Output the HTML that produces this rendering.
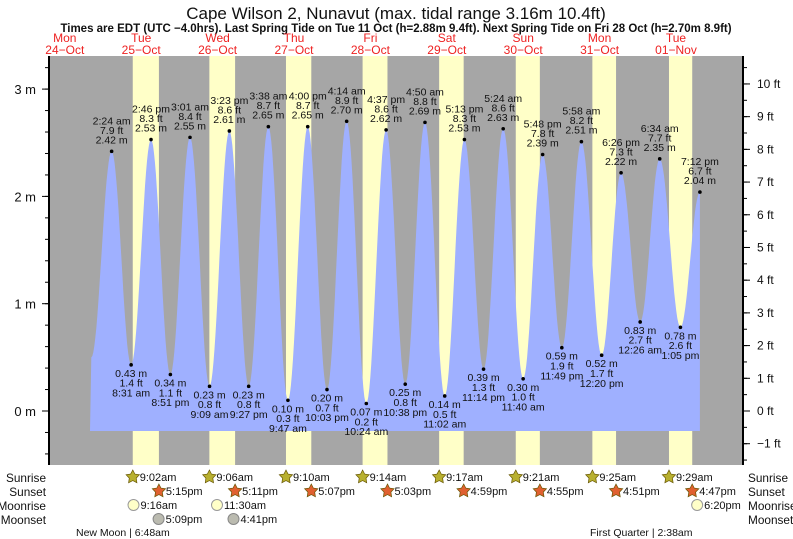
<!DOCTYPE html>
<html><head><meta charset="utf-8"><style>
body{margin:0;background:#fff;}
svg{display:block;font-family:"Liberation Sans",sans-serif;}
</style></head><body>
<svg id="chart" width="793" height="539" viewBox="0 0 793 539" xmlns="http://www.w3.org/2000/svg">
<text x="396" y="19" text-anchor="middle" font-size="17" fill="#111">Cape Wilson 2, Nunavut (max. tidal range 3.16m 10.4ft)</text>
<text x="396" y="32" text-anchor="middle" font-size="11.5" font-weight="bold" fill="#111">Times are EDT (UTC −4.0hrs). Last Spring Tide on Tue 11 Oct (h=2.88m 9.4ft). Next Spring Tide on Fri 28 Oct (h=2.70m 8.9ft)</text>
<rect x="49" y="56" width="694" height="409" fill="#a6a6a6"/>
<g id="bands"></g>
<path id="tide" fill="#9fb0ff"/>
<g id="labels"></g>
<g id="axes"></g>
<g id="bottom"></g>
</svg>
<script>
const dayNames=["Mon","Tue","Wed","Thu","Fri","Sat","Sun","Mon","Tue"];
const dayDates=["24−Oct","25−Oct","26−Oct","27−Oct","28−Oct","29−Oct","30−Oct","31−Oct","01−Nov"];
const tideDays=[-1,0,0,0,0,1,1,1,1,2,2,2,2,3,3,3,3,4,4,4,4,5,5,5,5,6,6,6,7,7,7,7,7];
const tideHours=[20.0,2.4,8.52,14.77,20.85,3.02,9.15,15.38,21.45,3.63,9.78,16.0,22.05,4.23,10.4,16.62,22.63,4.83,11.03,17.22,23.23,5.4,11.67,17.8,23.82,5.97,12.33,18.43,0.43,6.57,13.08,19.2,19.2];
const tideMeters=[0.50,2.42,0.43,2.53,0.34,2.55,0.23,2.61,0.23,2.65,0.10,2.65,0.20,2.70,0.07,2.62,0.25,2.69,0.14,2.53,0.39,2.63,0.30,2.39,0.59,2.51,0.52,2.22,0.83,2.35,0.78,2.04,2.04];
const tideFeet=["","7.9","1.4","8.3","1.1","8.4","0.8","8.6","0.8","8.7","0.3","8.7","0.7","8.9","0.2","8.6","0.8","8.8","0.5","8.3","1.3","8.6","1.0","7.8","1.9","8.2","1.7","7.3","2.7","7.7","2.6","6.7",""];
const tideTimes=["","2:24 am","8:31 am","2:46 pm","8:51 pm","3:01 am","9:09 am","3:23 pm","9:27 pm","3:38 am","9:47 am","4:00 pm","10:03 pm","4:14 am","10:24 am","4:37 pm","10:38 pm","4:50 am","11:02 am","5:13 pm","11:14 pm","5:24 am","11:40 am","5:48 pm","11:49 pm","5:58 am","12:20 pm","6:26 pm","12:26 am","6:34 am","1:05 pm","7:12 pm",""];
const sunriseH=[9.033,9.1,9.167,9.233,9.283,9.35,9.417,9.483];
const sunsetH=[17.25,17.183,17.117,17.05,16.983,16.917,16.85,16.783];
const sunriseLbl=["9:02am","9:06am","9:10am","9:14am","9:17am","9:21am","9:25am","9:29am"];
const sunsetLbl=["5:15pm","5:11pm","5:07pm","5:03pm","4:59pm","4:55pm","4:51pm","4:47pm"];
const moonriseDay=[0,1,7];const moonriseH=[9.27,11.5,18.33];const moonriseLbl=["9:16am","11:30am","6:20pm"];
const moonsetDay=[0,1];const moonsetH=[17.15,16.68];const moonsetLbl=["5:09pm","4:41pm"];
const mTicks=[0,1,2,3];const ftTicks=[-1,0,1,2,3,4,5,6,7,8,9,10];

const NS="http://www.w3.org/2000/svg";
const X0=104,PXD=76.4,Y0=411,PXM=107.3;
const xT=(d,h)=>X0+(d+h/24)*PXD;
const yM=m=>Y0-m*PXM;
const yF=f=>Y0-f/3.2808*PXM;
function mk(tag,attrs,parent,txt){const e=document.createElementNS(NS,tag);for(const k in attrs)e.setAttribute(k,attrs[k]);if(txt!==undefined)e.textContent=txt;parent.appendChild(e);return e;}
const bands=document.getElementById('bands'),labels=document.getElementById('labels'),axes=document.getElementById('axes'),bottom=document.getElementById('bottom');
const svg=document.getElementById('chart');

for(let i=0;i<8;i++){
  const x1=xT(i,sunriseH[i]),x2=xT(i,sunsetH[i]);
  const r=mk('rect',{x:x1,y:56,width:x2-x1,height:409,fill:'#ffffc8'},bands);
  
  
}
for(let i=0;i<9;i++){
  const cx=xT(i-1,12)-1;
  const t1=mk('text',{x:cx,y:42,'text-anchor':'middle','font-size':12,fill:'#ee2222'},svg,dayNames[i]);
  
  
  const t2=mk('text',{x:cx,y:54,'text-anchor':'middle','font-size':12,fill:'#ee2222'},svg,dayDates[i]);
  
  
}

const n=tideMeters.length-1;
const xs=tideHours.map((h,i)=>xT(tideDays[i],h));
const xStart=90,base=431;
let d=`M${xStart},${base}`;
for(let i=0;i<n-1;i++){
  const xa=xs[i],xb=xs[i+1],ya=tideMeters[i],yb=tideMeters[i+1];
  for(let s=0;s<=20;s++){
    const x=xa+(xb-xa)*s/20; if(x<xStart)continue;
    const v=ya+(yb-ya)*(1-Math.cos(Math.PI*s/20))/2;
    d+=`L${x.toFixed(1)},${yM(v).toFixed(1)}`;
  }
}
d+=`L${xs[n-1].toFixed(1)},${base}Z`;
document.getElementById('tide').setAttribute('d',d);

for(let i=1;i<n;i++){
  const x=xs[i],y=yM(tideMeters[i]);
  const high=tideMeters[i]>tideMeters[i-1];
  const c=mk('circle',{cx:x,cy:y,r:1.8,fill:'#000'},labels);
  
  
  const lines=high?[tideTimes[i],tideFeet[i]+' ft',tideMeters[i].toFixed(2)+' m']:[tideMeters[i].toFixed(2)+' m',tideFeet[i]+' ft',tideTimes[i]];
  const g=mk('g',{},labels);
  
  
  lines.forEach((s,k)=>{
    const yy=high?y-8-(2-k)*9.5:y+12+k*9.8;
    mk('text',{x:x,y:yy,'text-anchor':'middle','font-size':10.5,fill:'#111'},g,s);
  });
}

const la=mk('line',{x1:49,y1:56,x2:49,y2:465,stroke:'#000','stroke-width':2},axes);


const ra=mk('line',{x1:743,y1:56,x2:743,y2:465,stroke:'#000','stroke-width':2},axes);


for(let v=-0.6;v<=3.41;v+=0.2){const y=yM(v);if(y<57||y>464)continue;mk('line',{x1:45,y1:y,x2:49,y2:y,stroke:'#000'},axes);}
mTicks.forEach(m=>{const y=yM(m);mk('line',{x1:42,y1:y,x2:49,y2:y,stroke:'#000'},axes);
  const t=mk('text',{x:36,y:y+5,'text-anchor':'end','font-size':13,fill:'#111'},axes,m+' m');
  
  });
for(let f=-1.5;f<=11;f+=0.5){const y=yF(f);if(y<57||y>464)continue;mk('line',{x1:743,y1:y,x2:747,y2:y,stroke:'#000'},axes);}
ftTicks.forEach(f=>{const y=yF(f);mk('line',{x1:743,y1:y,x2:750,y2:y,stroke:'#000'},axes);
  const t=mk('text',{x:757,y:y+4,'font-size':12,fill:'#111'},axes,(f<0?'−'+(-f):f)+' ft');
  
  });

const rowY=[477,491,505,519],rowN=["Sunrise","Sunset","Moonrise","Moonset"];
rowN.forEach((s,k)=>{
  const a=mk('text',{x:46,y:rowY[k]+5,'text-anchor':'end','font-size':11.8,fill:'#111'},bottom,s);
  
  
  const b=mk('text',{x:748,y:rowY[k]+5,'font-size':11.8,fill:'#111'},bottom,s);
  
  
});
function star(cx,cy,fill){let p='';for(let k=0;k<10;k++){const r=k%2?3.6:7;const a=-Math.PI/2+k*Math.PI/5;p+=(cx+r*Math.cos(a)).toFixed(1)+','+(cy+r*Math.sin(a)).toFixed(1)+' ';}return mk('polygon',{points:p,fill:fill,stroke:'#665500','stroke-width':0.7},bottom);}
for(let i=0;i<8;i++){
  const x1=xT(i,sunriseH[i]);
  const s1=star(x1,rowY[0],'#b8b030');
  
  
  const t1=mk('text',{x:x1+7,y:rowY[0]+4,'font-size':11,fill:'#111'},bottom,sunriseLbl[i]);
  
  
  const x2=xT(i,sunsetH[i]);
  const s2=star(x2,rowY[1],'#e06030');
  
  
  const t2=mk('text',{x:x2+7,y:rowY[1]+4,'font-size':11,fill:'#111'},bottom,sunsetLbl[i]);
  
  
}
moonriseH.forEach((h,i)=>{const x=xT(moonriseDay[i],h);
  const c=mk('circle',{cx:x,cy:rowY[2],r:5.5,fill:'#ffffc8',stroke:'#999'},bottom);
  
  
  const t=mk('text',{x:x+7,y:rowY[2]+4,'font-size':11,fill:'#111'},bottom,moonriseLbl[i]);
  
  });
moonsetH.forEach((h,i)=>{const x=xT(moonsetDay[i],h);
  const c=mk('circle',{cx:x,cy:rowY[3],r:5.5,fill:'#bbbbb0',stroke:'#888'},bottom);
  
  
  const t=mk('text',{x:x+7,y:rowY[3]+4,'font-size':11,fill:'#111'},bottom,moonsetLbl[i]);
  
  });
</script>
<div style="position:absolute;left:0;top:0;width:793px;height:539px;pointer-events:none;font-family:'Liberation Sans',sans-serif;font-size:10.5px;color:#111">
<span style="position:absolute;left:76px;top:527px">New Moon | 6:48am</span>
<span style="position:absolute;left:590px;top:527px">First Quarter | 2:38am</span>
</div>
</body></html>
